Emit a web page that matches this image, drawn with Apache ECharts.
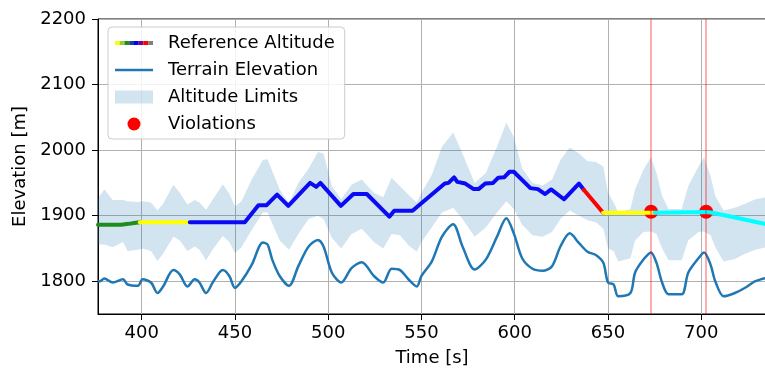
<!DOCTYPE html>
<html lang="en">
<head>
<meta charset="utf-8">
<script src="https://cdn.jsdelivr.net/npm/echarts@6/dist/echarts.min.js"></script>
<style>
    html, body { margin: 0; padding: 0; background: #fff; }
    #chart { width: 765px; height: 370px; }
</style>
</head>
<body>
<div id="chart"></div>
<script>
// tick labels
var xTicks = [400, 450, 500, 550, 600, 650, 700];
var yTicks = [1800, 1900, 2000, 2100, 2200];

// sample times [s] shared by terrain and the altitude limits band
var times = [376.6, 377.5, 380, 384.5, 390, 392.5, 398, 400.5, 405, 408.5,
    411.5, 417, 420.5, 424.5, 428.5, 431, 434.5, 438.5, 443.5, 447,
    450, 453.5, 459, 465, 467.5, 470, 474, 479, 484, 489.5,
    494.5, 497.5, 502, 507, 512.5, 518, 524.5, 529.5, 534, 538.5,
    543, 547.5, 550, 555.5, 561, 567, 572, 578.5, 584.5, 590.5,
    595.5, 599.5, 604, 609.5, 615, 620, 624.5, 629.5, 634.5, 639,
    643.5, 647.5, 650, 653, 655.5, 662, 664.5, 669, 673, 676,
    679, 682.5, 689.5, 693, 698.5, 701.5, 705, 707.5, 712, 718,
    723.5, 729, 734.7];

var terrain = [1800, 1800, 1804, 1798, 1803, 1795, 1793, 1803, 1798, 1782,
    1792, 1817, 1810, 1792, 1803, 1798, 1782, 1800, 1817, 1808,
    1790, 1800, 1825, 1859, 1856, 1833, 1808, 1793, 1823, 1853,
    1863, 1853, 1813, 1798, 1820, 1829, 1808, 1798, 1819, 1817,
    1803, 1792, 1808, 1830, 1868, 1887, 1853, 1818, 1833, 1868,
    1896, 1873, 1835, 1819, 1816, 1823, 1853, 1873, 1858, 1845,
    1840, 1828, 1798, 1795, 1777, 1782, 1813, 1833, 1844, 1828,
    1798, 1780, 1780, 1813, 1835, 1844, 1825, 1800, 1777, 1782,
    1790, 1800, 1805];

var limitHigh = [1926, 1930, 1940, 1924, 1924, 1922, 1921, 1922, 1920, 1908,
    1918, 1947, 1935, 1917, 1924, 1920, 1909, 1926, 1948, 1934,
    1914, 1922, 1955, 1985, 1986, 1968, 1940, 1919, 1950, 1972,
    1997, 1995, 1945, 1925, 1947, 1955, 1935, 1928, 1958, 1945,
    1932, 1920, 1935, 1962, 2005, 2027, 1995, 1950, 1965, 2005,
    2042, 2020, 1972, 1950, 1946, 1955, 1985, 2004, 1995, 1983,
    1982, 1975, 1935, 1920, 1905, 1910, 1940, 1970, 1989, 1965,
    1930, 1910, 1910, 1945, 1975, 1989, 1960, 1930, 1908, 1912,
    1918, 1925, 1928];

var limitLow = [1856, 1856, 1856, 1852, 1860, 1846, 1848, 1850, 1846, 1831,
    1842, 1868, 1862, 1846, 1853, 1848, 1832, 1850, 1869, 1860,
    1843, 1852, 1878, 1905, 1905, 1888, 1862, 1848, 1872, 1895,
    1900, 1895, 1866, 1850, 1872, 1880, 1860, 1850, 1872, 1870,
    1855, 1845, 1860, 1882, 1905, 1912, 1895, 1868, 1882, 1905,
    1922, 1910, 1886, 1870, 1868, 1875, 1895, 1908, 1900, 1893,
    1890, 1880, 1850, 1846, 1830, 1835, 1862, 1875, 1876, 1872,
    1850, 1832, 1832, 1862, 1875, 1876, 1870, 1852, 1830, 1834,
    1842, 1848, 1852];

// reference altitude, one array of [time, altitude] per coloured stretch
var refGreen = [[376.6, 1886], [384, 1886], [389, 1886.3], [393, 1887.5], [396, 1888.8], [399, 1890]];
var refYellow = [[399, 1890], [425.8, 1890]];
var refBlue = [[425.8, 1890], [455.3, 1890], [462.6, 1916], [467, 1916], [472.6, 1932],
    [478.6, 1915], [490.3, 1950], [493.6, 1944], [495.8, 1950], [506.8, 1915],
    [513.5, 1933], [520.7, 1933], [532.8, 1898.5], [535.4, 1907.5], [545.2, 1907.5],
    [562.5, 1949], [564.5, 1950], [567.5, 1958.5], [569.2, 1951.5], [573.5, 1949],
    [578, 1940.5], [580.6, 1940.5], [584.2, 1949], [588.4, 1950], [591.2, 1958],
    [594.3, 1958.5], [597.2, 1967], [599.5, 1967], [608.4, 1942], [612.4, 1940.5],
    [616.3, 1933], [619.5, 1940], [626.4, 1925], [634.4, 1949], [637, 1939.5]];
var refRed = [[637, 1939.5], [647.4, 1904.5]];
var refYellow2 = [[647.4, 1904.5], [675, 1904.5]];
var refCyan = [[675, 1904.5], [703, 1905.5], [706, 1904.5], [734.7, 1887.2]];

var violations = [[673.1, 1906], [702.6, 1906]];

var terrainData = times.map(function (t, i) { return [t, terrain[i]]; });
var limitData = times.map(function (t, i) { return [t, limitLow[i], limitHigh[i]]; });
var violationLines = violations.map(function (v) { return { xAxis: v[0] }; });

var FONT = 'DejaVu Sans';

function svgIcon(body) {
    return 'image://data:image/svg+xml;charset=utf-8,' + encodeURIComponent(
        '<svg xmlns="http://www.w3.org/2000/svg" width="48" height="20" viewBox="0 0 48 20">' + body + '</svg>');
}

var refIconColors = ['#ffff00', '#9acd32', '#1e8c1e', '#20409a', '#0000ff', '#800080', '#ff0000', '#808080'];
var refIcon = '';
refIconColors.forEach(function (c, i) {
    refIcon += '<rect x="' + (i * 4.75) + '" y="8" width="4.75" height="4" fill="' + c + '"/>';
});

function refSeries(data, color) {
    return {
        name: 'Reference Altitude',
        type: 'line',
        data: data,
        symbol: 'none',
        z: 4,
        lineStyle: { color: color, width: 4, cap: 'round', join: 'round' },
        itemStyle: { color: color }
    };
}

// the whole band as one polygon: upper edge forward, lower edge back
function renderBand(params, api) {
    if (params.dataIndex !== 0) return null;
    var pts = [];
    for (var i = 0; i < times.length; i++) pts.push(api.coord([times[i], limitHigh[i]]));
    for (var j = times.length - 1; j >= 0; j--) pts.push(api.coord([times[j], limitLow[j]]));
    return {
        type: 'polygon',
        shape: { points: pts },
        style: { fill: 'rgba(31,119,180,0.2)', stroke: null }
    };
}

var myChart = echarts.init(document.getElementById('chart'));

var option = {
    animation: false,
    backgroundColor: '#ffffff',
    textStyle: { fontFamily: FONT },
    grid: {
        left: 98, top: 19, right: -1, bottom: 56,
        show: true, borderColor: '#000', borderWidth: 1,
        containLabel: false, outerBoundsMode: 'none'
    },
    legend: {
        left: 108, top: 27,
        orient: 'vertical',
        padding: [6, 10, 5, 7],
        itemWidth: 48, itemHeight: 20, itemGap: 7,
        backgroundColor: 'rgba(255,255,255,0.85)',
        borderColor: '#cccccc', borderWidth: 1, borderRadius: 4,
        selectedMode: false,
        textStyle: { fontFamily: FONT, fontSize: 18, color: '#000', lineHeight: 20 },
        data: [
            { name: 'Reference Altitude', icon: svgIcon(refIcon) },
            { name: 'Terrain Elevation', icon: svgIcon('<line x1="0" y1="10" x2="38" y2="10" stroke="#1f77b4" stroke-width="2.5"/>') },
            { name: 'Altitude Limits', icon: svgIcon('<rect x="0" y="3.5" width="38" height="13" fill="#1f77b4" fill-opacity="0.2"/>') },
            { name: 'Violations', icon: svgIcon('<circle cx="19" cy="10" r="6.5" fill="#ff0000"/>') }
        ]
    },
    xAxis: {
        type: 'value',
        min: 376.6, max: 734.7,
        name: 'Time [s]',
        nameLocation: 'middle',
        nameGap: 35,
        nameTextStyle: { fontFamily: FONT, fontSize: 18, color: '#000' },
        axisLine: { show: true, lineStyle: { color: '#000', width: 1 } },
        axisTick: { show: true, inside: false, length: 6, customValues: xTicks, lineStyle: { color: '#000' } },
        axisLabel: {
            customValues: xTicks, margin: 10, fontFamily: FONT, fontSize: 18, color: '#000',
            formatter: function (v) { return xTicks.indexOf(v) >= 0 ? String(v) : ''; }
        },
        splitLine: { show: true, lineStyle: { color: '#b0b0b0', width: 1 } }
    },
    yAxis: {
        type: 'value',
        min: 1750, max: 2200,
        name: 'Elevation [m]',
        nameLocation: 'middle',
        nameGap: 62,
        nameTextStyle: { fontFamily: FONT, fontSize: 18, color: '#000' },
        axisLine: { show: true, lineStyle: { color: '#000', width: 1 } },
        axisTick: { show: true, inside: false, length: 6, customValues: yTicks, lineStyle: { color: '#000' } },
        axisLabel: {
            customValues: yTicks, margin: 12, fontFamily: FONT, fontSize: 18, color: '#000',
            formatter: function (v) { return yTicks.indexOf(v) >= 0 ? String(v) : ''; }
        },
        splitLine: { show: true, lineStyle: { color: '#b0b0b0', width: 1 } }
    },
    series: [
        {
            name: 'Altitude Limits',
            type: 'custom',
            data: limitData,
            encode: { x: 0, y: [1, 2] },
            renderItem: renderBand,
            clip: true,
            silent: true,
            itemStyle: { color: 'rgba(31,119,180,0.2)' },
            z: 1
        },
        {
            name: 'Terrain Elevation',
            type: 'line',
            data: terrainData,
            symbol: 'none',
            smooth: 0.3,
            lineStyle: { color: '#1f77b4', width: 2.5 },
            itemStyle: { color: '#1f77b4' },
            z: 2
        },
        {
            name: 'Violations',
            type: 'scatter',
            data: violations,
            symbol: 'circle',
            symbolSize: 14,
            itemStyle: { color: '#ff0000', opacity: 1 },
            z: 3
        },
        refSeries(refGreen, '#1e8c1e'),
        refSeries(refYellow, '#ffff00'),
        refSeries(refBlue, '#0a0af5'),
        refSeries(refRed, '#ff0000'),
        refSeries(refYellow2, '#ffff00'),
        refSeries(refCyan, '#00ffff'),
        {
            name: 'violationLines',
            type: 'line',
            data: [],
            z: 6,
            markLine: {
                silent: true,
                symbol: 'none',
                label: { show: false },
                lineStyle: { color: 'rgba(255,0,0,0.32)', width: 2, type: 'solid' },
                data: violationLines
            }
        }
    ]
};

myChart.setOption(option);
</script>
</body>
</html>
